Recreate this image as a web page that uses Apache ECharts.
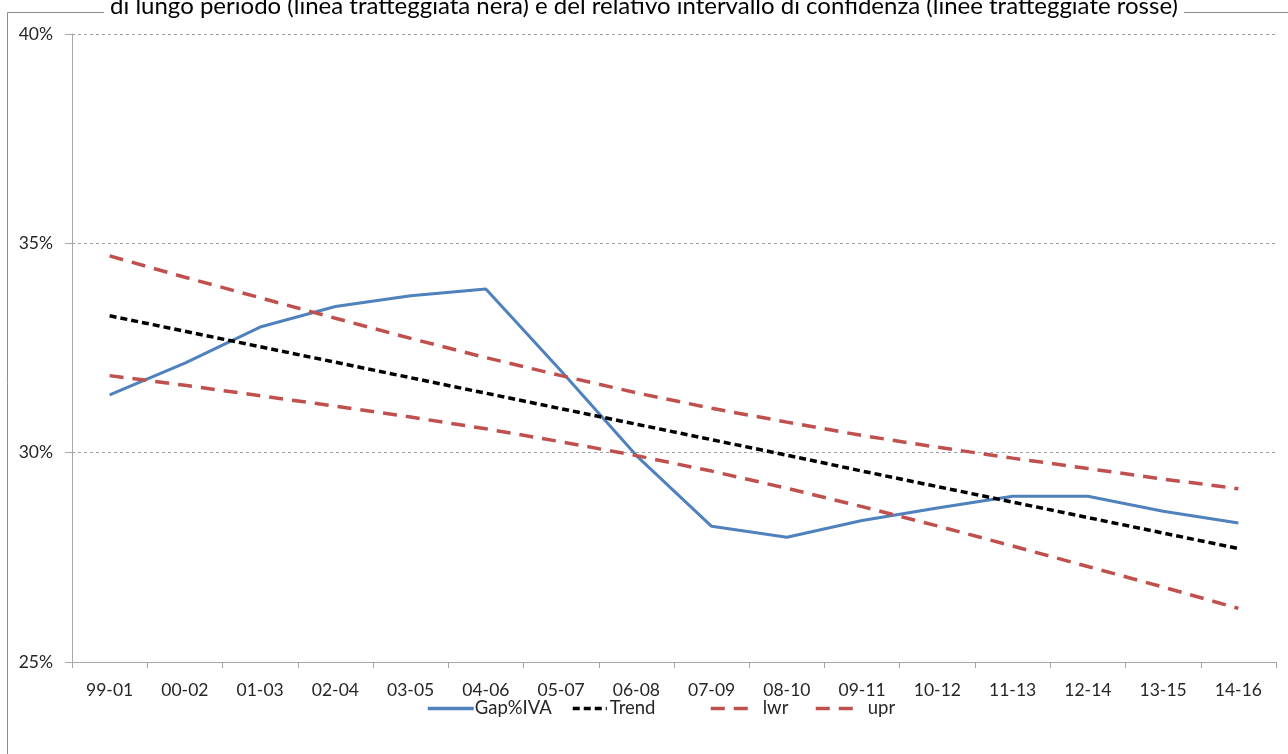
<!DOCTYPE html>
<html>
<head>
<meta charset="utf-8">
<title>Gap IVA – trend di lungo periodo</title>
<script src="https://cdn.jsdelivr.net/npm/echarts@6/dist/echarts.min.js"></script>
<style>
  html, body { margin: 0; padding: 0; background: #fff; }
  #chart { width: 1288px; height: 754px; }
</style>
</head>
<body>
<div id="chart"></div>
<script>
// Periodi triennali
const categories = ['99-01','00-02','01-03','02-04','03-05','04-06','05-07','06-08',
                    '07-09','08-10','09-11','10-12','11-13','12-14','13-15','14-16'];

// Gap IVA in % del gettito potenziale
const gapIva = [31.38, 32.14, 33.00, 33.49, 33.75, 33.91, 31.95, 29.93,
                28.24, 27.98, 28.38, 28.68, 28.96, 28.96, 28.60, 28.32];

// Trend lineare di lungo periodo
const trend = [33.27, 32.90, 32.53, 32.16, 31.79, 31.42, 31.05, 30.68,
               30.31, 29.94, 29.56, 29.19, 28.82, 28.45, 28.08, 27.71];

// Estremi dell'intervallo di confidenza
const lwr = [31.84, 31.61, 31.36, 31.11, 30.85, 30.57, 30.26, 29.93,
             29.56, 29.15, 28.71, 28.25, 27.77, 27.28, 26.79, 26.28];
const upr = [34.70, 34.19, 33.70, 33.21, 32.73, 32.27, 31.84, 31.43,
             31.06, 30.73, 30.41, 30.13, 29.87, 29.62, 29.37, 29.14];

const yTicks = { min: 25, max: 40, step: 5 };

const titleText = 'di lungo periodo (linea tratteggiata nera) e del relativo intervallo di confidenza (linee tratteggiate rosse)';

const FONT = 'Lato, "Open Sans", sans-serif';
const TEXT = '#262626';
const AXIS = '#A6A6A6';
const BLUE = '#4F81BD';
const RED = '#C0504D';

// one legend block per entry, so each entry sits at its own place
function legendEntry(name, left, width, textGap) {
  return {
    data: [name],
    left: left,
    top: 694,
    itemWidth: width,
    itemHeight: 14,
    itemStyle: { opacity: 0 },
    lineStyle: { width: 3.5 },
    textStyle: { fontFamily: FONT, fontSize: 18.5, color: TEXT, padding: [0, 0, 0, textGap] }
  };
}

const chart = echarts.init(document.getElementById('chart'), null, { renderer: 'canvas' });

chart.setOption({
  animation: false,
  backgroundColor: '#fff',
  textStyle: { fontFamily: FONT },
  title: {
    text: titleText,
    left: 'center',
    top: -11,
    padding: [5, 6],
    backgroundColor: '#fff',
    z: 10,
    textStyle: { fontFamily: FONT, fontSize: 24, fontWeight: 'normal', color: '#000' }
  },
  graphic: [{
    type: 'rect',
    shape: { x: 7.5, y: 12.5, width: 1400, height: 900 },
    style: { fill: null, stroke: '#8C8C8C', lineWidth: 1 },
    silent: true,
    z: -1
  }],
  grid: { left: 72, right: 12, top: 34, bottom: 92, containLabel: false },
  legend: [
    legendEntry('Gap%IVA', 421, 46, -4),
    legendEntry('Trend', 566, 34, -2),
    legendEntry('lwr', 704, 44, 3),
    legendEntry('upr', 809, 44, 3)
  ],
  xAxis: {
    type: 'category',
    data: categories,
    boundaryGap: true,
    axisLine: { lineStyle: { color: AXIS, width: 1 } },
    axisTick: { show: true, length: 6, lineStyle: { color: AXIS } },
    axisLabel: { margin: 19, fontFamily: FONT, fontSize: 17.5, color: TEXT },
    splitLine: { show: false }
  },
  yAxis: {
    type: 'value',
    min: yTicks.min,
    max: yTicks.max,
    interval: yTicks.step,
    axisLine: { show: true, lineStyle: { color: AXIS, width: 1 } },
    axisTick: { show: true, length: 7, lineStyle: { color: AXIS } },
    axisLabel: { margin: 19, fontFamily: FONT, fontSize: 17.5, color: TEXT, formatter: '{value}%' },
    splitLine: { show: true, lineStyle: { color: '#A0A0A0', width: 1, type: [3, 3] } }
  },
  series: [
    {
      name: 'Gap%IVA', type: 'line', data: gapIva,
      symbol: 'none', smooth: false,
      lineStyle: { color: BLUE, width: 3 },
      itemStyle: { color: BLUE }
    },
    {
      name: 'Trend', type: 'line', data: trend,
      symbol: 'none',
      lineStyle: { color: '#000000', width: 3.5, type: [7, 4] },
      itemStyle: { color: '#000000' }
    },
    {
      name: 'lwr', type: 'line', data: lwr,
      symbol: 'none',
      lineStyle: { color: RED, width: 3.5, type: [14, 9] },
      itemStyle: { color: RED }
    },
    {
      name: 'upr', type: 'line', data: upr,
      symbol: 'none',
      lineStyle: { color: RED, width: 3.5, type: [14, 9] },
      itemStyle: { color: RED }
    }
  ]
});
</script>
</body>
</html>
